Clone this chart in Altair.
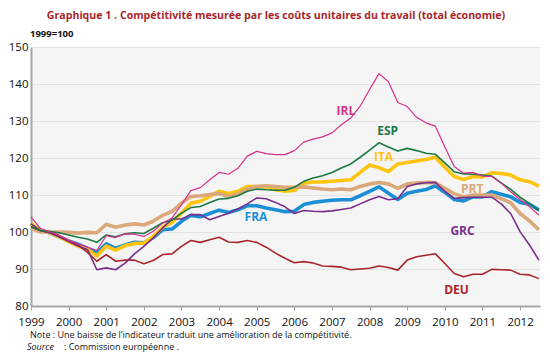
import altair as alt
import pandas as pd

START_YEAR = 1999
YEARS = list(range(1999, 2013))

IRL = [104.1, 101.0, 100.0, 99.2,
       97.8, 96.8, 95.9, 95.0,
       99.0, 98.5, 99.5, 99.4,
       98.8, 100.2, 102.4, 103.8,
       107.4, 111.2, 112.0, 114.1,
       116.1, 115.6, 117.2, 120.5,
       121.8, 121.2, 120.9, 120.9,
       122.0, 124.3, 125.1, 125.7,
       126.8, 129.0, 130.8, 134.0,
       138.5, 142.8, 140.6, 135.0,
       133.9, 131.0, 129.5, 128.6,
       123.0, 117.7, 115.9, 116.1,
       115.1, 115.0, 113.2, 110.9,
       108.8, 106.8, 104.6]

ESP = [101.4, 100.4, 100.1, 99.8,
       99.2, 98.6, 98.1, 97.2,
       99.2, 98.7, 99.5, 99.8,
       99.6, 101.0, 102.5, 103.2,
       105.1, 106.6, 106.9, 108.0,
       108.9, 109.1, 109.8, 111.0,
       111.6, 111.4, 111.3, 111.3,
       112.1, 113.7, 114.6, 115.2,
       116.1, 117.3, 118.4, 120.2,
       122.1, 124.1, 123.0, 121.9,
       122.6, 122.0, 121.3, 121.0,
       118.7, 116.3, 115.7, 115.6,
       115.4, 115.1, 113.3, 111.5,
       109.4, 107.7, 105.7]

ITA = [102.3, 100.3, 99.8, 98.7,
       97.4, 96.2, 95.3, 93.5,
       96.2, 95.1, 96.3, 96.9,
       97.0, 98.8, 101.3, 102.6,
       105.1, 107.8, 108.3, 109.6,
       111.0, 110.4, 111.0, 112.3,
       112.3, 112.2, 111.4, 111.0,
       111.2, 113.2, 113.5, 113.5,
       113.7, 113.9, 114.1, 116.1,
       118.1, 117.4, 116.3, 118.4,
       118.8, 119.2, 119.6, 120.2,
       117.5, 115.0, 114.2, 115.0,
       114.9, 116.0, 115.8, 115.4,
       114.1, 113.6, 112.4]

FRA = [102.2, 100.4, 99.8, 98.7,
       97.6, 96.7, 95.6, 94.4,
       96.8, 95.6, 96.5, 97.2,
       97.1, 98.5, 100.6, 100.8,
       102.9, 104.5, 104.1, 105.0,
       105.9, 105.3, 106.0, 107.1,
       107.1, 106.5, 106.0, 105.5,
       105.6, 107.4, 108.0, 108.3,
       108.6, 108.7, 108.7, 109.8,
       111.0, 112.2, 110.5, 108.8,
       110.5, 111.0, 111.5, 112.5,
       110.7, 108.8, 108.4, 109.5,
       109.5, 110.9, 110.2, 109.5,
       108.0, 107.5, 106.0]

GRC = [102.2, 100.4, 99.8, 98.7,
       97.4, 96.2, 95.3, 89.8,
       90.3, 89.8, 91.6, 94.1,
       96.1, 98.4, 101.1, 103.5,
       103.5, 104.7, 104.7, 103.3,
       104.2, 105.1, 106.2, 107.6,
       109.2, 109.0, 108.0, 106.8,
       105.0, 105.8, 105.6, 105.5,
       105.7, 106.1, 106.5, 107.6,
       108.7, 109.6, 108.7, 109.0,
       112.3, 113.0, 113.3, 113.4,
       111.0, 109.1, 109.3, 109.4,
       109.4, 109.4, 107.6, 105.0,
       100.1, 96.5, 92.4]

DEU = [101.4, 100.4, 99.8, 98.7,
       97.6, 96.5, 94.5, 92.1,
       93.9, 92.1, 92.4, 92.4,
       91.4, 92.3, 93.9, 94.1,
       96.1, 97.7, 97.2, 97.9,
       98.6, 97.3, 97.2, 97.7,
       97.2, 95.9, 94.3, 92.9,
       91.7, 92.0, 91.6, 90.8,
       90.7, 90.5, 89.8, 90.0,
       90.2, 90.8, 90.4, 89.7,
       92.4, 93.3, 93.7, 94.1,
       91.5, 88.8, 87.9, 88.6,
       88.6, 89.9, 89.8, 89.7,
       88.6, 88.4, 87.4]

PRT = [101.0, 100.0, 100.0, 100.0,
       99.9, 99.7, 99.9, 99.8,
       102.1, 101.3, 101.9, 102.2,
       101.9, 102.9, 104.5, 105.6,
       107.8, 109.6, 109.8, 110.1,
       110.4, 109.6, 110.3, 111.6,
       112.3, 112.5, 112.3, 112.1,
       112.1, 112.2, 111.9, 111.6,
       111.4, 111.6, 111.4, 112.3,
       113.0, 113.4, 113.0, 111.8,
       113.0, 113.2, 113.4, 113.3,
       111.8, 110.3, 109.5, 110.0,
       110.0, 110.0, 109.0, 107.9,
       105.0, 103.0, 100.6]

SERIES = {"FRA": FRA, "ITA": ITA, "PRT": PRT, "DEU": DEU,
          "GRC": GRC, "ESP": ESP, "IRL": IRL}
COLORS = {"IRL": "#d6308c", "ESP": "#1b7a43", "ITA": "#ffc40f",
          "PRT": "#dba87a", "FRA": "#1b8fd5", "GRC": "#7a2e8c",
          "DEU": "#a8262b"}
WIDTHS = {"IRL": 1.2, "ESP": 1.6, "ITA": 3.6, "PRT": 3.6,
          "FRA": 3.6, "GRC": 1.6, "DEU": 1.6}

# label anchor positions (time, value)
LABEL_T = {"IRL": 2007.37, "ESP": 2008.48, "ITA": 2008.37, "PRT": 2010.73,
           "FRA": 2004.98, "GRC": 2010.47, "DEU": 2010.31}
LABEL_V = {"IRL": 132.7, "ESP": 127.3, "ITA": 120.3, "PRT": 111.6,
           "FRA": 104.1, "GRC": 100.3, "DEU": 84.3}

W, H = 509, 259

xscale = alt.Scale(domain=[1999, 2012.53], nice=False, zero=False)
yscale = alt.Scale(domain=[80, 150], nice=False, zero=False)

xaxis = alt.Axis(values=YEARS, format="d", title=None, grid=False,
                 domainColor="#a6a6a6", domainWidth=2, tickColor="#a6a6a6",
                 tickSize=4, labelFont="Open Sans", labelFontSize=11.5,
                 labelColor="#111", labelPadding=6, labelFlush=False)
yaxis = alt.Axis(values=list(range(80, 151, 10)), title=None, grid=True,
                 gridColor="#e3e3e3", gridWidth=1, domainColor="#a6a6a6",
                 domainWidth=2, ticks=False, labelFont="Open Sans",
                 labelFontSize=11.5, labelColor="#111", labelPadding=3)

X = alt.X("t:Q", scale=xscale, axis=xaxis)
Y = alt.Y("v:Q", scale=yscale, axis=yaxis)

layers = []
for name, vals in SERIES.items():
    df = pd.DataFrame({"t": [START_YEAR + i / 4 for i in range(len(vals))],
                       "v": vals})
    layers.append(alt.Chart(df).mark_line(color=COLORS[name],
                                          strokeWidth=WIDTHS[name],
                                          strokeJoin="round").encode(x=X, y=Y))

lab = pd.DataFrame({"name": list(LABEL_T.keys()),
                    "t": [LABEL_T[k] for k in LABEL_T],
                    "v": [LABEL_V[k] for k in LABEL_T]})
labels = alt.Chart(lab).mark_text(font="Open Sans", fontSize=12,
                                  fontWeight="bold").encode(
    x=X, y=Y,
    text="name:N",
    color=alt.Color("name:N", scale=alt.Scale(domain=list(COLORS.keys()),
                                              range=list(COLORS.values())),
                    legend=None))

title = alt.Chart(pd.DataFrame({"s": ["Graphique 1 . Compétitivité mesurée par les coûts unitaires du travail (total économie)"]})).mark_text(
    font="Open Sans", fontSize=10.6, fontWeight="bold", color="#a8262b",
    align="center", baseline="middle").encode(
    text="s:N", x=alt.value(245), y=alt.value(-31))

base = alt.Chart(pd.DataFrame({"s": ["1999=100"]})).mark_text(
    font="Open Sans", fontSize=9.5, fontWeight="bold", color="#111",
    align="left", baseline="middle").encode(
    text="s:N", x=alt.value(-1), y=alt.value(-13))

note = alt.Chart(pd.DataFrame({"s": ["Note  : Une baisse de l’indicateur traduit une amélioration de la compétitivité."]})).mark_text(
    font="Open Sans", fontSize=9, color="#111", align="left",
    baseline="middle").encode(text="s:N", x=alt.value(-1), y=alt.value(288))

src1 = alt.Chart(pd.DataFrame({"s": ["Source"]})).mark_text(
    font="Open Sans", fontSize=9, fontStyle="italic", color="#111",
    align="left", baseline="middle").encode(text="s:N", x=alt.value(-4),
                                            y=alt.value(300))
src2 = alt.Chart(pd.DataFrame({"s": [":  Commission européenne ."]})).mark_text(
    font="Open Sans", fontSize=9, color="#111", align="left",
    baseline="middle").encode(text="s:N", x=alt.value(33), y=alt.value(300))

chart = alt.layer(*layers, labels, title, base, note, src1, src2).properties(
    width=W, height=H,
    autosize=alt.AutoSizeParams(type="none"),
    padding={"left": 23, "top": 39, "right": 2, "bottom": 46},
).configure_view(fill="#f5f5f5", stroke=None)

chart.save("out.html", embed_options={"renderer": "svg", "actions": False})
